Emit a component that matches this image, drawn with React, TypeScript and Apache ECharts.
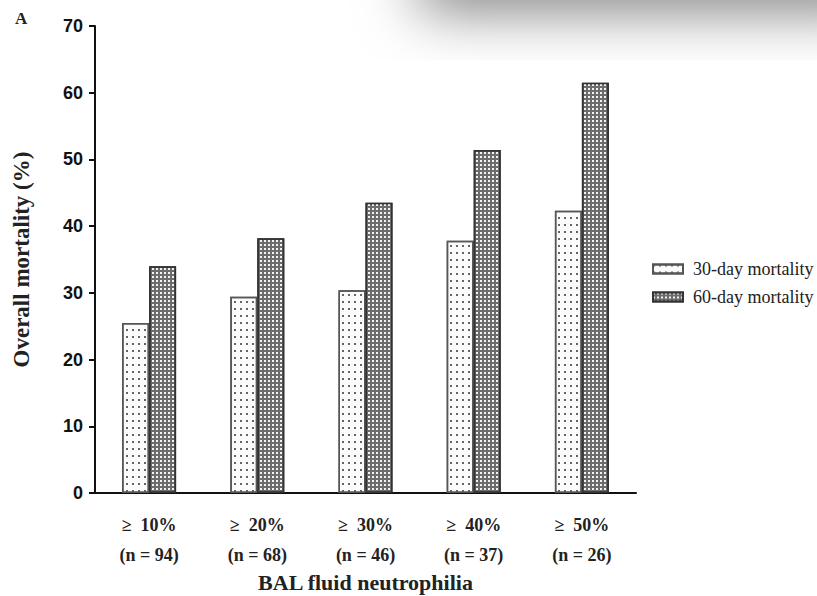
import React, { useEffect, useRef } from "react";
import * as echarts from "echarts";

const categories = ["≥  10%", "≥  20%", "≥  30%", "≥  40%", "≥  50%"];
const counts = ["(n = 94)", "(n = 68)", "(n = 46)", "(n = 37)", "(n = 26)"];
const mortality30 = [25.5, 29.4, 30.4, 37.8, 42.3];
const mortality60 = [34.0, 38.2, 43.5, 51.4, 61.5];
const seriesNames = ["30-day mortality", "60-day mortality"];
const yTicks = [0, 10, 20, 30, 40, 50, 60, 70];

export default function App() {
  const ref = useRef<HTMLDivElement>(null);
  useEffect(() => {
    if (!ref.current) return;
    document.body.style.margin = "0";
    document.body.style.overflow = "hidden";
    const chart = echarts.init(ref.current, null, { renderer: "svg" });
    const serif = "'Liberation Serif', 'Times New Roman', serif";
    const sans = "'Liberation Sans', Arial, sans-serif";
    chart.setOption({
      animation: false,
      backgroundColor: "#ffffff",
      grid: { left: 95, right: 181, top: 26, bottom: 103, containLabel: false, outerBoundsMode: "none" },
      legend: {
        orient: "vertical",
        left: 647,
        top: 255,
        itemWidth: 30,
        itemHeight: 9,
        itemGap: 10,
        icon: "rect",
        textStyle: { fontFamily: serif, fontSize: 18, color: "#222", padding: [0, 0, 0, 5] },
        data: seriesNames,
      },
      xAxis: {
        type: "category",
        data: categories.map((c, i) => c + "\n" + counts[i]),
        axisLine: { lineStyle: { color: "#111", width: 2 } },
        axisTick: { alignWithLabel: true, length: 7, lineStyle: { color: "#111", width: 2 } },
        axisLabel: {
          margin: 17,
          fontFamily: serif,
          fontWeight: "bold",
          fontSize: 18,
          color: "#222",
          lineHeight: 30,
        },
        name: "BAL fluid neutrophilia",
        nameLocation: "middle",
        nameGap: 78,
        nameMoveOverlap: false,
        nameTextStyle: { fontFamily: serif, fontWeight: "bold", fontSize: 22, color: "#222", lineHeight: 22 },
      },
      yAxis: {
        type: "value",
        min: 0,
        max: 70,
        interval: 10,
        splitLine: { show: false },
        axisLine: { show: true, lineStyle: { color: "#111", width: 2 } },
        axisTick: { show: true, length: 6, lineStyle: { color: "#111", width: 2 } },
        axisLabel: {
          margin: 12,
          fontFamily: sans,
          fontWeight: "bold",
          fontSize: 18,
          color: "#111",
          formatter: (v: number) => (yTicks.includes(v) ? String(v) : ""),
        },
        name: "Overall mortality (%)",
        nameLocation: "middle",
        nameGap: 62,
        nameMoveOverlap: false,
        nameRotate: 90,
        nameTextStyle: { fontFamily: serif, fontWeight: "bold", fontSize: 23, color: "#222" },
      },
      series: [
        {
          name: seriesNames[0],
          type: "bar",
          data: mortality30,
          barWidth: 27,
          barGap: "0%",
          itemStyle: {
            color: "#fbfbfb",
            borderColor: "#555",
            borderWidth: 1.5,
            decal: {
              symbol: "rect",
              symbolSize: 1,
              dashArrayX: [1.5, 4],
              dashArrayY: [1.5, 5],
              color: "#666",
              rotation: 0,
            },
          },
        },
        {
          name: seriesNames[1],
          type: "bar",
          data: mortality60,
          barWidth: 27,
          barGap: "0%",
          itemStyle: {
            color: "#6c6c6c",
            borderColor: "#333",
            borderWidth: 1.5,
            decal: {
              symbol: "rect",
              symbolSize: 1,
              dashArrayX: [2, 2],
              dashArrayY: [2, 2],
              color: "#f2f2f2",
              rotation: 0,
            },
          },
        },
      ],
      graphic: [
        {
          type: "text",
          left: 15,
          top: 10,
          style: { text: "A", fontFamily: serif, fontWeight: "bold", fontSize: 17, fill: "#222" },
        },
        {
          type: "rect",
          shape: { x: 420, y: -60, width: 460, height: 60 },
          style: {
            fill: "#ffffff",
            shadowBlur: 60,
            shadowColor: "rgba(0,0,0,0.55)",
            shadowOffsetY: 8,
          },
          z: 100,
        },
      ],
    });
    return () => chart.dispose();
  }, []);
  return <div ref={ref} style={{ position: "fixed", left: 0, top: 0, width: 817, height: 596 }} />;
}
